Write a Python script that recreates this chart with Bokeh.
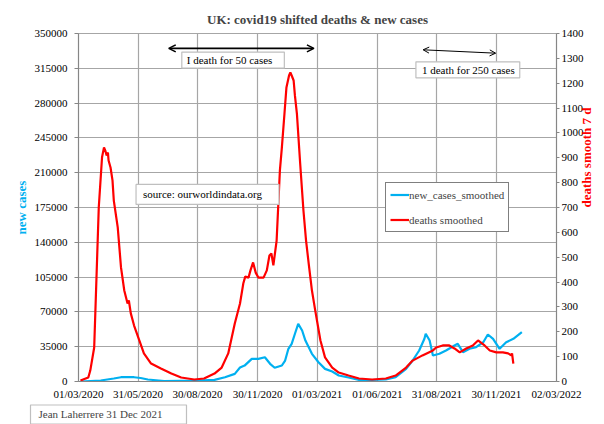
import math
import pandas as pd
from bokeh.plotting import figure
from bokeh.models import (LinearAxis, Range1d, DatetimeTickFormatter, FixedTicker, Title,
                          Label, Arrow, OpenHead, Legend, LegendItem, PrintfTickFormatter)
from bokeh.embed import file_html
from bokeh.resources import INLINE

# ---------------- data ----------------
death_dates = [
    "2020-03-04", "2020-03-16", "2020-03-19", "2020-03-25", "2020-03-27", "2020-04-01",
    "2020-04-06", "2020-04-09", "2020-04-11", "2020-04-13", "2020-04-15", "2020-04-16",
    "2020-04-19", "2020-04-22", "2020-04-24", "2020-04-30", "2020-05-05", "2020-05-10",
    "2020-05-15", "2020-05-17", "2020-05-20", "2020-05-25", "2020-06-02", "2020-06-09",
    "2020-06-20", "2020-07-05", "2020-07-21", "2020-08-05", "2020-08-25", "2020-09-09",
    "2020-09-25", "2020-10-06", "2020-10-16", "2020-10-26", "2020-11-03", "2020-11-08",
    "2020-11-11", "2020-11-16", "2020-11-19", "2020-11-23", "2020-11-27", "2020-12-01",
    "2020-12-09", "2020-12-14", "2020-12-18", "2020-12-21", "2020-12-24", "2020-12-29",
    "2021-01-03", "2021-01-06", "2021-01-10", "2021-01-13", "2021-01-17", "2021-01-19",
    "2021-01-21", "2021-01-24", "2021-01-26", "2021-01-29", "2021-02-03", "2021-02-08",
    "2021-02-12", "2021-02-16", "2021-02-21", "2021-02-26", "2021-03-06", "2021-03-13",
    "2021-03-24", "2021-04-03", "2021-04-18", "2021-05-04", "2021-05-24", "2021-06-14",
    "2021-06-29", "2021-07-15", "2021-07-25", "2021-08-09", "2021-08-25", "2021-08-30",
    "2021-09-09", "2021-09-19", "2021-09-27", "2021-10-05", "2021-10-15", "2021-10-25",
    "2021-11-02", "2021-11-12", "2021-11-20", "2021-11-30", "2021-12-10", "2021-12-18",
    "2021-12-23", "2021-12-24", "2021-12-26",
]
deaths_smoothed = [
    4, 16, 44, 137, 298, 700,
    902, 942, 929, 909, 921, 889,
    861, 809, 728, 620, 459, 366,
    314, 326, 274, 225, 165, 113,
    72, 52, 32, 16, 8, 12,
    32, 56, 113, 233, 314, 394,
    422, 418, 447, 479, 438, 418,
    418, 447, 507, 515, 467, 567,
    849, 941, 1078, 1183, 1231, 1243,
    1231, 1211, 1150, 1078, 877, 688,
    567, 475, 366, 286, 165, 97,
    56, 36, 24, 12, 8, 12,
    24, 56, 84, 105, 125, 137,
    145, 145, 133, 117, 133, 145,
    165, 145, 125, 117, 117, 113,
    105, 113, 72,
]

case_dates = [
    "2020-03-04", "2020-04-04", "2020-04-19", "2020-04-24", "2020-05-05", "2020-05-25",
    "2020-06-04", "2020-06-15", "2020-07-10", "2020-08-31", "2020-09-25", "2020-10-11",
    "2020-10-26", "2020-11-03", "2020-11-10", "2020-11-21", "2020-12-01", "2020-12-11",
    "2020-12-19", "2020-12-26", "2021-01-06", "2021-01-11", "2021-01-16", "2021-01-21",
    "2021-01-26", "2021-01-31", "2021-02-06", "2021-02-11", "2021-02-21", "2021-03-03",
    "2021-03-13", "2021-03-24", "2021-04-03", "2021-04-18", "2021-05-04", "2021-05-24",
    "2021-06-14", "2021-06-29", "2021-07-15", "2021-07-25", "2021-08-04", "2021-08-12",
    "2021-08-14", "2021-08-20", "2021-08-25", "2021-09-04", "2021-09-14", "2021-09-27",
    "2021-10-02", "2021-10-10", "2021-10-20", "2021-10-30", "2021-11-10", "2021-11-17",
    "2021-11-25", "2021-12-05", "2021-12-15", "2021-12-26", "2022-01-08",
]
new_cases_smoothed = [
    0, 1000, 2500, 3000, 4300, 4300,
    3500, 2000, 500, 1000, 1700, 4300,
    7700, 14000, 16000, 22800, 22800, 24400,
    17800, 13800, 16100, 21100, 32900, 37900,
    48000, 58000, 51300, 41200, 27800, 19400,
    12700, 10000, 6000, 4000, 1700, 1500,
    2000, 4300, 12800, 21100, 31200, 43000,
    48000, 41200, 26100, 27900, 31200, 36200,
    37900, 29500, 32900, 34500, 39500, 47300,
    42900, 32900, 39500, 42900, 49600,
]

x_tick_labels = ["01/03/2020", "31/05/2020", "30/08/2020", "30/11/2020", "01/03/2021",
                 "01/06/2021", "31/08/2021", "30/11/2021", "02/03/2022"]
left_ticks = [0, 35000, 70000, 105000, 140000, 175000, 210000, 245000, 280000, 315000, 350000]
right_ticks = [0, 100, 200, 300, 400, 500, 600, 700, 800, 900, 1000, 1100, 1200, 1300, 1400]

# ---------------- figure ----------------
def ms(d):
    return pd.Timestamp(d).value // 10**6

xt = [ms(pd.to_datetime(s, format="%d/%m/%Y")) for s in x_tick_labels]

FONT = "Liberation Serif"
GRID = "#A6A6A6"
AXIS = "#868686"

p = figure(width=604, height=424, x_axis_type="datetime",
           x_range=Range1d(xt[0], xt[-1]), y_range=Range1d(0, 350000),
           output_backend="svg", toolbar_location=None,
           min_border_left=78, min_border_right=10, min_border_top=33, min_border_bottom=43)
p.extra_y_ranges = {"deaths": Range1d(0, 1400)}
p.background_fill_color = "white"
p.border_fill_color = "white"
p.outline_line_color = GRID

p.title.text = "UK: covid19 shifted deaths & new cases"
p.title.align = "center"
p.title.text_font = FONT
p.title.text_font_size = "13px"
p.title.text_font_style = "bold"
p.title.standoff = 14

xticker = FixedTicker(ticks=xt)
p.xaxis.ticker = xticker
fmt = "%d/%m/%Y"
p.xaxis.formatter = DatetimeTickFormatter(milliseconds=fmt, seconds=fmt, minsec=fmt, minutes=fmt,
                                          hourmin=fmt, hours=fmt, days=fmt, months=fmt, years=fmt)
p.xgrid.ticker = xticker

p.yaxis.ticker = FixedTicker(ticks=left_ticks)
p.yaxis.formatter = PrintfTickFormatter(format="%d")
p.yaxis.axis_label = "new cases"
p.yaxis.axis_label_text_color = "#00B0F0"

ax_r = LinearAxis(y_range_name="deaths", ticker=FixedTicker(ticks=right_ticks),
                  formatter=PrintfTickFormatter(format="%d"))
p.add_layout(ax_r, "right")

for ax in [p.xaxis[0], p.yaxis[0], ax_r]:
    ax.axis_line_color = AXIS
    ax.axis_line_width = 1.2
    ax.major_tick_line_color = AXIS
    ax.minor_tick_line_color = None
    ax.major_tick_in = 0
    ax.major_label_text_font = FONT
    ax.major_label_text_font_size = "11px"
    ax.major_label_text_color = "black"
    ax.axis_label_text_font = FONT
    ax.axis_label_text_font_size = "13px"
    ax.axis_label_text_font_style = "bold"
    ax.axis_label_standoff = 3

p.xaxis.major_tick_out = 0
p.xaxis.major_label_standoff = 6
p.yaxis.major_tick_out = 4
p.yaxis.major_label_standoff = 7
ax_r.major_tick_out = 3
ax_r.major_label_standoff = 2
ax_r.axis_label_standoff = 0

# right axis title (reads bottom-to-top in the original)
if "axis_label_orientation" in ax_r.properties():
    ax_r.axis_label = "deaths smooth 7 d"
    ax_r.axis_label_text_color = "#FF0000"
    ax_r.axis_label_orientation = math.pi / 2
else:
    p.add_layout(Title(text="deaths smooth 7 d", align="center", text_font=FONT,
                       text_font_size="13px", text_font_style="bold",
                       text_color="#FF0000", standoff=0), "right")

p.xgrid.grid_line_color = GRID
p.ygrid.grid_line_color = GRID
p.xgrid.grid_line_width = 1.2
p.ygrid.grid_line_width = 1.2

cases_r = p.line(x=pd.to_datetime(case_dates), y=new_cases_smoothed,
                 line_color="#00B0F0", line_width=2.2)
deaths_r = p.line(x=pd.to_datetime(death_dates), y=deaths_smoothed,
                  line_color="#FF0000", line_width=2.2, y_range_name="deaths")

legend = Legend(items=[LegendItem(label="new_cases_smoothed", renderers=[cases_r]),
                       LegendItem(label="deaths smoothed", renderers=[deaths_r])],
                location=(307, 149))
legend.border_line_color = "black"
legend.border_line_width = 1.2
legend.background_fill_color = "white"
legend.background_fill_alpha = 1
legend.padding = 4
legend.spacing = 10
legend.margin = 0
legend.label_height = 15
legend.glyph_height = 15
legend.glyph_width = 19
legend.label_standoff = 0
legend.label_text_font = FONT
legend.label_text_font_size = "11px"
p.add_layout(legend)

# arrows
p.add_layout(Arrow(start=OpenHead(size=7, line_width=1.5), end=OpenHead(size=7, line_width=1.5),
                   x_start=ms("2020-07-17"), y_start=335000, x_end=ms("2021-02-24"), y_end=335000,
                   line_width=1.8, line_color="black"))
p.add_layout(Arrow(start=OpenHead(size=6, line_width=1), end=OpenHead(size=6, line_width=1),
                   x_start=ms("2021-08-10"), y_start=333600, x_end=ms("2021-11-29"), y_end=330200,
                   line_width=1, line_color="black"))

def box_label(text, x, y, pad):
    return Label(x=x, y=y, text=text, text_font=FONT, text_font_size="11px",
                 text_align="left", text_baseline="middle", text_color="black",
                 background_fill_color="white", background_fill_alpha=1,
                 border_line_color="#BFBFBF", border_line_width=1.2, padding=pad)

p.add_layout(box_label("I death for 50 cases", ms("2020-08-06"), 323300,
                       dict(left=5, right=12, top=2, bottom=2)))
p.add_layout(box_label("1 death for 250 cases", ms("2021-07-30"), 313500,
                       dict(left=6, right=5, top=2, bottom=2)))
p.add_layout(box_label("source: ourworldindata.org", ms("2020-05-28"), 188100,
                       dict(left=7, right=17, top=4, bottom=4)))

# footer credit box, below the axis
p.add_layout(Title(text="Jean Laherrere 31 Dec 2021", align="left", offset=-48,
                   text_font=FONT, text_font_size="11px", text_font_style="normal",
                   background_fill_color="white", border_line_color="#BFBFBF",
                   border_line_width=1.2, padding=dict(left=8, right=24, top=3, bottom=4),
                   standoff=1), "below")

open("out.html", "w").write(file_html(p, INLINE))
